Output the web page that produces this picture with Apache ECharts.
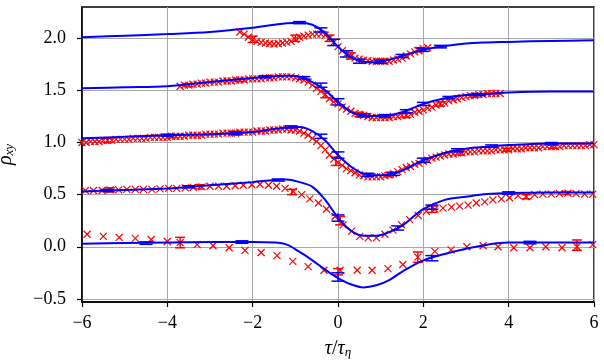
<!DOCTYPE html>
<html>
<head>
<meta charset="utf-8">
<script src="https://cdn.jsdelivr.net/npm/echarts@6/dist/echarts.min.js"></script>
<style>
  html, body { margin: 0; background: #fff; }
  #chart { width: 604px; height: 363px; }
</style>
</head>
<body>
<div id="chart"></div>
<script>
// model curves (blue), sampled at tauModel
const tauModel = [-6, -5, -4, -3, -2, -1.5, -1.2, -0.9, -0.6, -0.3, 0, 0.3, 0.6, 0.9, 1.2, 1.5, 2, 2.5, 3, 3.5, 4, 5, 6];
const model00 = [0.03, 0.035, 0.04, 0.045, 0.045, 0.04, 0.02, -0.05, -0.13, -0.22, -0.30, -0.36, -0.39, -0.37, -0.32, -0.24, -0.13, -0.07, -0.02, 0.02, 0.04, 0.04, 0.04];
const model05 = [0.53, 0.545, 0.56, 0.59, 0.62, 0.64, 0.645, 0.62, 0.575, 0.45, 0.28, 0.155, 0.105, 0.105, 0.14, 0.20, 0.36, 0.45, 0.48, 0.505, 0.515, 0.52, 0.52];
const model10 = [1.04, 1.055, 1.07, 1.08, 1.10, 1.13, 1.145, 1.15, 1.11, 1.02, 0.88, 0.77, 0.70, 0.685, 0.69, 0.73, 0.83, 0.90, 0.94, 0.96, 0.975, 0.99, 0.99];
const model15 = [1.52, 1.53, 1.54, 1.58, 1.62, 1.635, 1.64, 1.63, 1.58, 1.50, 1.39, 1.295, 1.26, 1.255, 1.26, 1.29, 1.37, 1.425, 1.455, 1.465, 1.48, 1.49, 1.49];
const model20 = [2.01, 2.025, 2.04, 2.06, 2.10, 2.13, 2.145, 2.15, 2.13, 2.05, 1.92, 1.82, 1.775, 1.77, 1.795, 1.83, 1.89, 1.925, 1.95, 1.96, 1.965, 1.975, 1.98];

// measured data (red crosses)
const tauRed00 = [-5.88, -5.50, -5.13, -4.75, -4.38, -4.00, -3.70, -3.30, -2.93, -2.55, -2.18, -1.80, -1.43, -1.06, -0.70, -0.33, 0.05, 0.45, 0.80, 1.17, 1.52, 1.87, 2.27, 2.65, 3.02, 3.40, 3.75, 4.12, 4.50, 4.87, 5.25, 5.60, 5.97];
const rhoRed00 = [0.12, 0.10, 0.09, 0.08, 0.07, 0.05, 0.04, 0.02, 0.01, -0.01, -0.035, -0.055, -0.085, -0.14, -0.19, -0.225, -0.225, -0.225, -0.225, -0.21, -0.17, -0.10, -0.045, -0.03, 0.0, 0.01, 0.0, -0.01, -0.01, 0.0, -0.01, 0.0, 0.02];

const tauRed05 = [-5.92, -5.73, -5.53, -5.34, -5.14, -4.95, -4.75, -4.56, -4.36, -4.17, -3.97, -3.78, -3.58, -3.39, -3.19, -3.00, -2.80, -2.61, -2.41, -2.22, -2.02, -1.83, -1.63, -1.44, -1.24, -1.05, -0.85, -0.66, -0.46, -0.27, -0.07, 0.12, 0.32, 0.51, 0.71, 0.90, 1.10, 1.29, 1.49, 1.68, 1.88, 2.07, 2.27, 2.46, 2.66, 2.85, 3.05, 3.24, 3.44, 3.63, 3.83, 4.02, 4.22, 4.41, 4.61, 4.80, 5.00, 5.19, 5.39, 5.58, 5.78, 5.97];
const rhoRed05 = [0.54, 0.54, 0.54, 0.545, 0.545, 0.55, 0.55, 0.55, 0.55, 0.555, 0.56, 0.56, 0.565, 0.57, 0.575, 0.58, 0.58, 0.58, 0.585, 0.59, 0.595, 0.60, 0.59, 0.58, 0.56, 0.53, 0.50, 0.46, 0.42, 0.36, 0.29, 0.21, 0.15, 0.10, 0.085, 0.085, 0.12, 0.16, 0.21, 0.26, 0.30, 0.34, 0.36, 0.37, 0.38, 0.39, 0.40, 0.42, 0.43, 0.45, 0.46, 0.47, 0.49, 0.48, 0.50, 0.505, 0.505, 0.51, 0.515, 0.51, 0.505, 0.505];

const tauRed10 = [-6.0, -5.9, -5.8, -5.7, -5.6, -5.5, -5.4, -5.3, -5.2, -5.1, -5.0, -4.9, -4.8, -4.7, -4.6, -4.5, -4.4, -4.3, -4.2, -4.1, -4.0, -3.9, -3.8, -3.7, -3.6, -3.5, -3.4, -3.3, -3.2, -3.1, -3.0, -2.9, -2.8, -2.7, -2.6, -2.5, -2.4, -2.3, -2.2, -2.1, -2.0, -1.9, -1.8, -1.7, -1.6, -1.5, -1.4, -1.3, -1.2, -1.1, -1.0, -0.9, -0.8, -0.7, -0.6, -0.5, -0.4, -0.3, -0.2, -0.1, 0.0, 0.1, 0.2, 0.3, 0.4, 0.5, 0.6, 0.7, 0.8, 0.9, 1.0, 1.1, 1.2, 1.3, 1.4, 1.5, 1.6, 1.7, 1.8, 1.9, 2.0, 2.1, 2.2, 2.3, 2.4, 2.5, 2.6, 2.7, 2.8, 2.9, 3.0, 3.1, 3.2, 3.3, 3.4, 3.5, 3.6, 3.7, 3.8, 3.9, 4.0, 4.1, 4.2, 4.3, 4.4, 4.5, 4.6, 4.7, 4.8, 4.9, 5.0, 5.1, 5.2, 5.3, 5.4, 5.5, 5.6, 5.7, 5.8, 5.9, 6.0];
const rhoRed10 = [
  1.00, 1.00, 1.01, 1.01, 1.01, 1.02, 1.02, 1.02, 1.03, 1.03,
  1.03, 1.03, 1.04, 1.04, 1.04, 1.04, 1.05, 1.05, 1.05, 1.05,
  1.05, 1.06, 1.06, 1.06, 1.06, 1.07, 1.07, 1.07, 1.07, 1.08,
  1.08, 1.08, 1.08, 1.09, 1.09, 1.09, 1.09, 1.10, 1.10, 1.10,
  1.10, 1.11, 1.11, 1.11, 1.12, 1.12, 1.12, 1.13, 1.13, 1.12,
  1.12, 1.11, 1.09, 1.07, 1.04, 1.01, 0.97, 0.93, 0.88, 0.84,
  0.81, 0.78, 0.75, 0.73, 0.71, 0.69, 0.68, 0.67, 0.67, 0.67,
  0.67, 0.68, 0.69, 0.70, 0.72, 0.74, 0.76, 0.77, 0.79, 0.80,
  0.82, 0.83, 0.85, 0.86, 0.87, 0.88, 0.89, 0.89, 0.90, 0.90,
  0.91, 0.91, 0.91, 0.92, 0.92, 0.92, 0.92, 0.93, 0.93, 0.93,
  0.93, 0.94, 0.94, 0.94, 0.95, 0.95, 0.95, 0.95, 0.96, 0.96,
  0.96, 0.96, 0.96, 0.97, 0.97, 0.97, 0.97, 0.97, 0.97, 0.98,
  0.98];

const tauRed15 = [-3.7, -3.6, -3.5, -3.4, -3.3, -3.2, -3.1, -3.0, -2.9, -2.8, -2.7, -2.6, -2.5, -2.4, -2.3, -2.2, -2.1, -2.0, -1.9, -1.8, -1.7, -1.6, -1.5, -1.4, -1.3, -1.2, -1.1, -1.0, -0.9, -0.8, -0.7, -0.6, -0.5, -0.4, -0.3, -0.2, -0.1, 0.0, 0.1, 0.2, 0.3, 0.4, 0.5, 0.6, 0.7, 0.8, 0.9, 1.0, 1.1, 1.2, 1.3, 1.4, 1.5, 1.6, 1.7, 1.8, 1.9, 2.0, 2.1, 2.2, 2.3, 2.4, 2.5, 2.6, 2.7, 2.8, 2.9, 3.0, 3.1, 3.2, 3.3, 3.4, 3.5, 3.6, 3.7, 3.8];
const rhoRed15 = [
  1.54, 1.55, 1.55, 1.56, 1.56, 1.57, 1.57, 1.58, 1.58, 1.58,
  1.59, 1.59, 1.59, 1.60, 1.60, 1.60, 1.61, 1.61, 1.61, 1.61,
  1.62, 1.62, 1.62, 1.63, 1.63, 1.63, 1.63, 1.62, 1.61, 1.60,
  1.58, 1.55, 1.52, 1.49, 1.46, 1.42, 1.39, 1.37, 1.34, 1.32,
  1.30, 1.28, 1.27, 1.26, 1.25, 1.24, 1.24, 1.24, 1.24, 1.24,
  1.25, 1.25, 1.26, 1.26, 1.27, 1.29, 1.30, 1.31, 1.33, 1.34,
  1.36, 1.37, 1.38, 1.40, 1.41, 1.42, 1.43, 1.44, 1.45, 1.45,
  1.46, 1.46, 1.47, 1.47, 1.47, 1.47];

const tauRed20 = [-2.3, -2.2, -2.1, -2.0, -1.9, -1.8, -1.7, -1.6, -1.5, -1.4, -1.3, -1.2, -1.1, -1.0, -0.9, -0.8, -0.7, -0.6, -0.5, -0.4, -0.3, -0.2, -0.1, 0.0, 0.1, 0.2, 0.3, 0.4, 0.5, 0.6, 0.7, 0.8, 0.9, 1.0, 1.1, 1.2, 1.3, 1.4, 1.5, 1.6, 1.7, 1.8, 1.9, 2.0, 2.1];
const rhoRed20 = [
  2.06, 2.04, 2.01, 1.99, 1.97, 1.96, 1.955, 1.95, 1.945, 1.95,
  1.955, 1.96, 1.97, 1.99, 2.01, 2.02, 2.03, 2.04, 2.04, 2.04,
  2.03, 2.00, 1.96, 1.92, 1.88, 1.85, 1.83, 1.81, 1.80, 1.79,
  1.785, 1.78, 1.78, 1.78, 1.78, 1.78, 1.79, 1.80, 1.81, 1.83,
  1.85, 1.87, 1.88, 1.90, 1.91];

// error bars: [tau, centre, half-width]
const redErrors = [
  [-3.70, 0.04, 0.05], [0.0, -0.24, 0.03], [1.87, -0.10, 0.05], [5.60, 0.015, 0.05],
  [-5.35, 0.545, 0.02], [-3.25, 0.575, 0.02], [-1.08, 0.525, 0.025], [0.05, 0.25, 0.04], [2.2, 0.36, 0.03], [4.42, 0.48, 0.02], [5.35, 0.515, 0.015],
  [-5.4, 1.02, 0.02], [-3.9, 1.06, 0.015], [-2.4, 1.09, 0.02], [-0.05, 0.82, 0.04], [1.2, 0.69, 0.02], [2.86, 0.90, 0.02], [3.96, 0.93, 0.015], [5.04, 0.96, 0.015],
  [-3.5, 1.55, 0.015], [-2.3, 1.60, 0.015], [-0.3, 1.46, 0.03], [0.5, 1.27, 0.02], [1.6, 1.26, 0.02], [2.4, 1.37, 0.02], [3.2, 1.45, 0.015],
  [-2.0, 1.99, 0.03], [-1.0, 2.0, 0.03], [-0.2, 2.0, 0.03], [0.3, 1.83, 0.03], [1.0, 1.78, 0.02], [1.9, 1.89, 0.02]
];
const blueErrors = [
  [-4.5, 0.035, 0.012], [-2.25, 0.045, 0.012], [0.0, -0.29, 0.04], [2.2, -0.11, 0.025], [4.5, 0.04, 0.012],
  [-5.4, 0.54, 0.01], [-3.5, 0.575, 0.01], [-1.4, 0.64, 0.01], [0.0, 0.275, 0.03], [1.4, 0.18, 0.02], [2.2, 0.38, 0.02], [4.0, 0.515, 0.012],
  [-4.0, 1.07, 0.01], [-2.4, 1.09, 0.012], [-1.1, 1.15, 0.01], [-0.4, 1.06, 0.02], [0.0, 0.88, 0.03], [0.7, 0.69, 0.015], [1.3, 0.70, 0.015], [2.0, 0.83, 0.02], [2.8, 0.925, 0.015], [3.6, 0.965, 0.012], [5.0, 0.99, 0.01],
  [-1.7, 1.63, 0.01], [-0.8, 1.62, 0.012], [-0.4, 1.55, 0.02], [0.0, 1.39, 0.03], [0.6, 1.26, 0.015], [1.1, 1.255, 0.012], [1.6, 1.30, 0.015], [2.0, 1.37, 0.015], [2.6, 1.43, 0.012], [3.3, 1.46, 0.01],
  [-0.9, 2.15, 0.01], [-0.4, 2.08, 0.02], [-0.1, 1.96, 0.03], [0.2, 1.85, 0.03], [0.5, 1.78, 0.02], [1.0, 1.775, 0.015], [1.5, 1.83, 0.015], [2.0, 1.89, 0.015], [2.4, 1.92, 0.012]
];

const xTicks = [-6, -4, -2, 0, 2, 4, 6];
const yTicks = [-0.5, 0.0, 0.5, 1.0, 1.5, 2.0];

const RED = '#ff0000';
const BLUE = '#0000ff';
const SERIF = '"Liberation Serif", "DejaVu Serif", serif';

const zip = (xs, ys) => xs.map((x, i) => [x, ys[i]]);
const minus = (s) => s.replace('-', '\u2212');

function crossItem(params, api) {
  const p = api.coord([api.value(0), api.value(1)]);
  const s = 3.5;
  const st = { stroke: RED, lineWidth: 1.2 };
  return {
    type: 'group',
    children: [
      { type: 'line', shape: { x1: p[0] - s, y1: p[1] - s, x2: p[0] + s, y2: p[1] + s }, style: st },
      { type: 'line', shape: { x1: p[0] - s, y1: p[1] + s, x2: p[0] + s, y2: p[1] - s }, style: st }
    ]
  };
}

function errorItem(color, cap) {
  return function (params, api) {
    const x = api.value(0), y = api.value(1), e = api.value(2);
    const lo = api.coord([x, y - e]);
    const hi = api.coord([x, y + e]);
    const st = { stroke: color, lineWidth: 1.5 };
    return {
      type: 'group',
      children: [
        { type: 'line', shape: { x1: lo[0], y1: lo[1], x2: hi[0], y2: hi[1] }, style: st },
        { type: 'line', shape: { x1: lo[0] - cap, y1: lo[1], x2: lo[0] + cap, y2: lo[1] }, style: st },
        { type: 'line', shape: { x1: hi[0] - cap, y1: hi[1], x2: hi[0] + cap, y2: hi[1] }, style: st }
      ]
    };
  };
}

const redSets = [[tauRed00, rhoRed00], [tauRed05, rhoRed05], [tauRed10, rhoRed10], [tauRed15, rhoRed15], [tauRed20, rhoRed20]];
const models = [model00, model05, model10, model15, model20];

const series = [];
redSets.forEach(([t, r]) => {
  series.push({
    type: 'custom', renderItem: crossItem, encode: { x: 0, y: 1 },
    data: zip(t, r), silent: true, z: 2
  });
});
series.push({
  type: 'custom', renderItem: errorItem(RED, 5), encode: { x: 0, y: 1 },
  data: redErrors, silent: true, z: 3
});
models.forEach((m) => {
  series.push({
    type: 'line', data: zip(tauModel, m), smooth: 0.35, showSymbol: false,
    lineStyle: { color: BLUE, width: 2 }, silent: true, z: 4
  });
});
series.push({
  type: 'custom', renderItem: errorItem(BLUE, 6.5), encode: { x: 0, y: 1 },
  data: blueErrors, silent: true, z: 5
});

const chart = echarts.init(document.getElementById('chart'));
chart.setOption({
  animation: false,
  grid: {
    left: 82, right: 10, top: 7, bottom: 61, outerBoundsMode: 'none',
    show: true, borderColor: '#000', borderWidth: 1.5
  },
  xAxis: {
    type: 'value', min: -6, max: 6, interval: 2,
    axisLine: { show: true, onZero: false, lineStyle: { color: '#000', width: 1.5 } },
    axisTick: { show: true, length: 5, lineStyle: { color: '#000', width: 1.2 } },
    axisLabel: { color: '#000', fontFamily: SERIF, fontSize: 18, margin: 12, formatter: (v) => minus(String(v)) },
    splitLine: { show: true, lineStyle: { color: '#a8a8a8', width: 1 } },
    name: '{i|τ}{n|/}{i|τ}{s|η}', nameLocation: 'middle', nameGap: 34,
    nameTextStyle: {
      rich: {
        i: { fontFamily: SERIF, fontStyle: 'italic', fontSize: 20, color: '#000', lineHeight: 20 },
        n: { fontFamily: SERIF, fontSize: 20, color: '#000', lineHeight: 20 },
        s: { fontFamily: SERIF, fontStyle: 'italic', fontSize: 13, color: '#000', lineHeight: 13, padding: [9, 0, 0, 0], verticalAlign: 'bottom' }
      }
    }
  },
  yAxis: {
    type: 'value', min: -0.53, max: 2.3,
    axisLine: { show: true, onZero: false, lineStyle: { color: '#000', width: 1.5 } },
    axisTick: { show: true, length: 5, customValues: yTicks, lineStyle: { color: '#000', width: 1.2 } },
    axisLabel: { color: '#000', fontFamily: SERIF, fontSize: 18, margin: 16, customValues: yTicks, formatter: (v) => minus(v.toFixed(1)) },
    splitLine: { show: true, lineStyle: { color: '#a8a8a8', width: 1 } },
    name: '{i|ρ}{s|xy}', nameLocation: 'middle', nameGap: 66, nameRotate: 90,
    nameTextStyle: {
      rich: {
        i: { fontFamily: SERIF, fontStyle: 'italic', fontSize: 20, color: '#000', lineHeight: 20 },
        s: { fontFamily: SERIF, fontStyle: 'italic', fontSize: 13, color: '#000', lineHeight: 13, padding: [9, 0, 0, 0], verticalAlign: 'bottom' }
      }
    }
  },
  series: series
});
</script>
</body>
</html>
